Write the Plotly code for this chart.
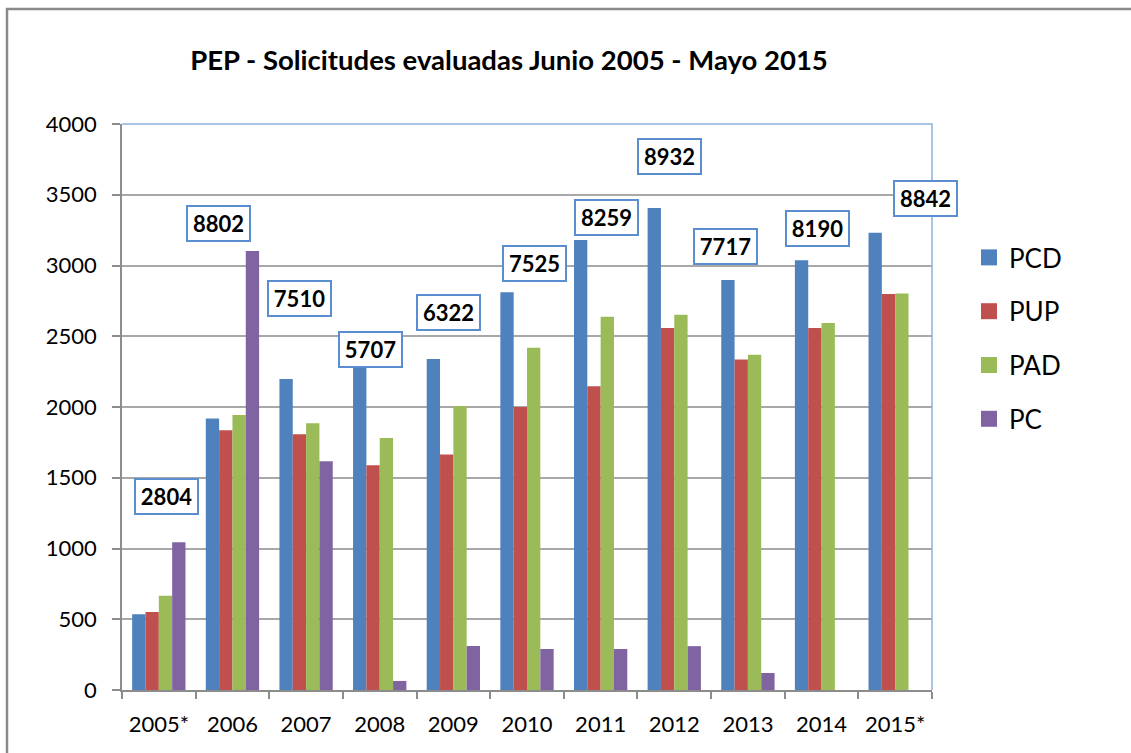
import plotly.graph_objects as go

years = ["2005*", "2006", "2007", "2008", "2009", "2010", "2011", "2012", "2013", "2014", "2015*"]
pcd = [535, 1918, 2198, 2280, 2339, 2811, 3180, 3406, 2898, 3037, 3232]
pup = [551, 1835, 1807, 1588, 1665, 2000, 2146, 2558, 2335, 2558, 2799]
pad = [666, 1943, 1885, 1781, 2007, 2419, 2638, 2652, 2370, 2594, 2803]
pc = [1044, 3102, 1616, 64, 311, 290, 290, 310, 120, 0, 0]
totals = [2804, 8802, 7510, 5707, 6322, 7525, 8259, 8932, 7717, 8190, 8842]

series_names = ["PCD", "PUP", "PAD", "PC"]
series_values = [pcd, pup, pad, pc]
series_colors = ["#4F81BD", "#C0504D", "#9BBB59", "#8064A2"]

# label box placement (category index offset, value-axis height)
label_x = [0.098, 0.817, 1.917, 2.868, 3.94, 5.108, 6.073, 6.935, 7.695, 8.945, 10.418]
label_y = [1365, 3297, 2767, 2404, 2665, 3015, 3339, 3770, 3135, 3262, 3472]

FONT = "Lato, 'Open Sans', sans-serif"

fig = go.Figure()
for name, vals, col in zip(series_names, series_values, series_colors):
    fig.add_trace(go.Bar(x=years, y=vals, name=name, marker=dict(color=col, line=dict(width=0)),
                         legendgroup=name, showlegend=False))
# legend entries with larger square swatches
for name, col in zip(series_names, series_colors):
    fig.add_trace(go.Scatter(x=[None], y=[None], mode="markers", name=name, legendgroup=name,
                             marker=dict(symbol="square", size=18, color=col, line=dict(width=0)),
                             hoverinfo="skip"))

annotations = []
for t, lx, ly in zip(totals, label_x, label_y):
    annotations.append(dict(x=lx, y=ly, xref="x", yref="y", text=f"<b>{t}</b>", showarrow=False,
                            font=dict(family=FONT, size=22, color="black"),
                            bgcolor="white", bordercolor="#5B8ED0", borderwidth=2,
                            borderpad=2, width=57, height=29, xanchor="center", yanchor="middle"))

W, H = 1131, 753
L, R, T, B = 122, 199, 124, 63
pw, ph = W - L - R, H - T - B

def px_x(px):
    return (px - L) / pw

def px_y(py):
    return (H - B - py) / ph

shapes = [
    # plot area border (top and right)
    dict(type="path", xref="paper", yref="paper",
         path="M 0 1 L 1 1 L 1 0", line=dict(color="#8EB1DD", width=1.5), layer="above"),
    # outer chart frame
    dict(type="path", xref="paper", yref="paper",
         path=f"M {px_x(7)} {px_y(760)} L {px_x(7)} {px_y(9)} L {px_x(1140)} {px_y(9)}",
         line=dict(color="#8A8A8A", width=2.5)),
]

fig.update_layout(
    width=W, height=H,
    margin=dict(l=L, r=R, t=T, b=B),
    paper_bgcolor="white", plot_bgcolor="white",
    font=dict(family=FONT, size=21, color="black"),
    title=dict(text="<b>PEP - Solicitudes evaluadas Junio 2005 - Mayo 2015</b>",
               x=509 / W, xanchor="center", y=1 - 60 / H, yanchor="middle",
               font=dict(family=FONT, size=27.5, color="black")),
    barmode="group", bargap=0.276, bargroupgap=0,
    legend=dict(x=px_x(969), xanchor="left", y=px_y(234), yanchor="top",
                font=dict(family=FONT, size=26, color="black"),
                tracegroupgap=17, bgcolor="rgba(0,0,0,0)", itemsizing="trace"),
    annotations=annotations,
    shapes=shapes,
    xaxis=dict(type="category", range=[-0.5, 10.5], showline=True, linecolor="#8C8C8C", linewidth=1.5,
               ticks="outside", ticklen=7, tickcolor="#8C8C8C", tickwidth=1.5,
               tickson="boundaries", showgrid=False, ticklabelstandoff=14,
               tickfont=dict(family=FONT, size=22, color="black")),
    yaxis=dict(range=[0, 4000], dtick=500, showline=True, linecolor="#8C8C8C", linewidth=1.5,
               ticks="outside", ticklen=8, tickcolor="#8C8C8C", tickwidth=1.5,
               showgrid=True, gridcolor="#A8A8A8", gridwidth=1.5, zeroline=False,
               ticklabelstandoff=11,
               tickfont=dict(family=FONT, size=22, color="black")),
)

fig.write_html("out.html", config={"displayModeBar": False},
               post_script="document.body.style.margin='0';")
